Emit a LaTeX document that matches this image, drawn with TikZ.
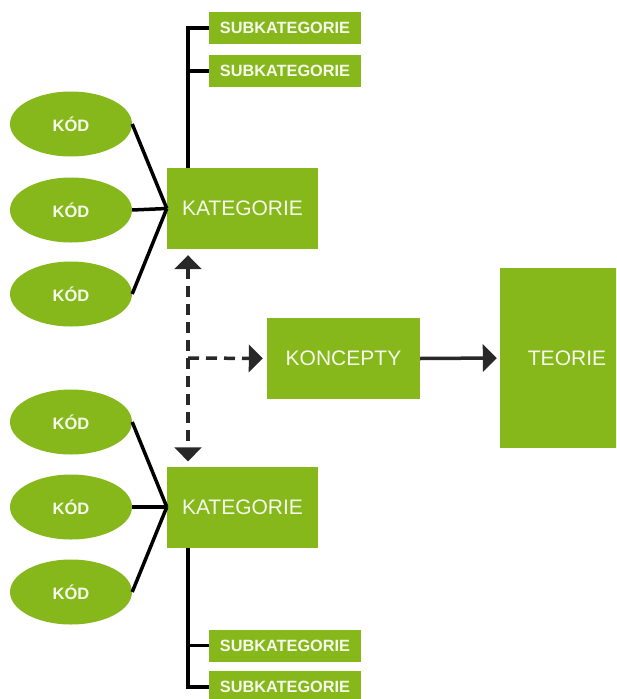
\documentclass[tikz,border=0pt]{standalone}
\usepackage{fontspec}
\setmainfont{Liberation Sans}
\usetikzlibrary{arrows.meta}
\usetikzlibrary{shapes.geometric}
\definecolor{zelena}{RGB}{134,184,28}
\definecolor{sipka}{RGB}{40,40,40}
\definecolor{popis}{RGB}{246,250,236}

\begin{document}
\begin{tikzpicture}[x=1pt, y=-1pt,
		kod/.style={ellipse, fill=zelena, text=popis, inner sep=0pt, minimum width=122pt, minimum height=65pt, font=\bfseries\fontsize{16.5}{17}\selectfont},
		blok/.style={rectangle, fill=zelena, text=popis, inner sep=0pt},
		kat/.style={blok, minimum width=151pt, minimum height=81pt, font=\fontsize{21}{22}\selectfont},
		subkat/.style={blok, minimum width=152pt, minimum height=32pt, font=\bfseries\fontsize{16.3}{17}\selectfont},
		cara/.style={line width=3.5pt, black},
		carkovana/.style={line width=3.5pt, sipka, dash pattern=on 11pt off 7pt, arrows={-Triangle[width=27pt,length=14pt]}},
		plna/.style={line width=3.5pt, sipka, -{Triangle[width=27pt,length=14pt]}}]
	\useasboundingbox (0,0) rectangle (616,699);
	\clip (0,0) rectangle (616,699);

	% horni vetev
	\node [kat] (kat1) at (242.5,208.5) {KATEGORIE};
	\node [kod] (kod1) at (71,124) {KÓD};
	\node [kod] (kod2) at (71,210) {KÓD};
	\node [kod] (kod3) at (71,294) {KÓD};
	\node [subkat] (sub1) at (285,28) {SUBKATEGORIE};
	\node [subkat] (sub2) at (285,71) {SUBKATEGORIE};

	% dolni vetev
	\node [kat] (kat2) at (242.5,507) {KATEGORIE};
	\node [kod] (kod4) at (71,422) {KÓD};
	\node [kod] (kod5) at (71,507) {KÓD};
	\node [kod] (kod6) at (71,592) {KÓD};
	\node [subkat] (sub3) at (285,645.5) {SUBKATEGORIE};
	\node [subkat] (sub4) at (285,687) {SUBKATEGORIE};

	% stred
	\node [kat, minimum width=153pt] (konc) at (343.5,358.5) {KONCEPTY};
	\node [kat, minimum width=134pt, minimum height=180pt] (teorie) at (567,358) {TEORIE};
	\coordinate (hub) at (188,358);

	\foreach \k in {kod1,kod2,kod3}
		\draw [cara] (\k.east) -- (kat1.west);
	\foreach \k in {kod4,kod5,kod6}
		\draw [cara] (\k.east) -- (kat2.west);

	\draw [cara] (hub |- kat1.north) |- (sub1.west);
	\draw [cara] (hub |- sub2.west) -- (sub2.west);
	\draw [cara] (hub |- kat2.south) |- (sub4.west);
	\draw [cara] (hub |- sub3.west) -- (sub3.west);

	\draw [carkovana, arrows={Triangle[width=27pt,length=14pt]-Triangle[width=27pt,length=14pt]}, shorten <=6pt, shorten >=5pt] (hub |- kat1.south) -- (hub |- kat2.north);
	\draw [carkovana, shorten >=4pt] (hub) -- (konc.west);
	\draw [plna, shorten >=3pt] (konc.east) -- (teorie.west);
\end{tikzpicture}
\end{document}
